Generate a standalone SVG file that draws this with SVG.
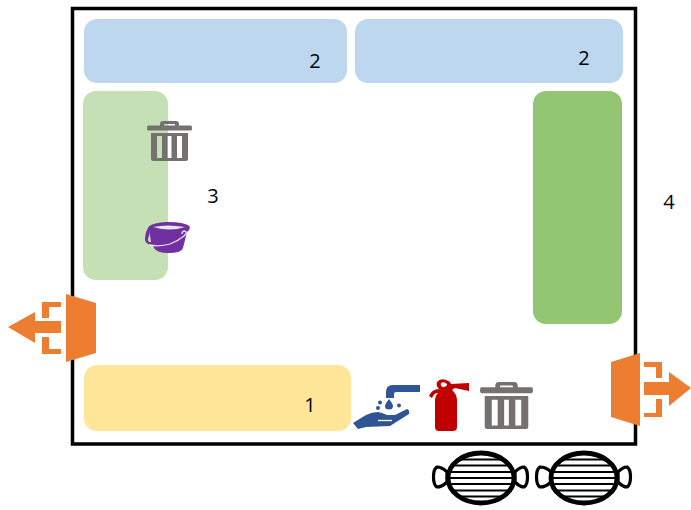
<svg xmlns="http://www.w3.org/2000/svg" width="691" height="510" viewBox="0 0 691 510">
<style>
.t{font-family:"Open Sans","Liberation Sans",Arial,sans-serif;font-size:20px;fill:#000}
.o{fill:#ed7d31}
.l{fill:none;stroke:#000}
.ear{fill:#fff;stroke:#000;stroke-width:3.200}
</style>
<defs>
<symbol id="trash" viewBox="0 0 45 40" preserveAspectRatio="none">
<path fill="#767171" fill-rule="evenodd" d="M1 4.500H13V3Q13 0 16 0H29Q32 0 32 3V4.500H44Q45 4.500 45 7Q45 9.500 44 9.500H1Q0 9.500 0 7Q0 4.500 1 4.500ZM17 4.500H28V3.500Q28 3 27 3H18Q17 3 17 3.500ZM4 12H41V38Q41 40 39 40H6Q4 40 4 38ZM10 15V37H15V15ZM20.500 15V37H24.500V15ZM30 15V37H35V15Z"/>
</symbol>
<clipPath id="maskClip"><ellipse cx="0" cy="0" rx="33" ry="25"/></clipPath>
<g id="maskShape">
<ellipse cx="0" cy="0" rx="33" ry="25" fill="#fff"/>
<path class="l" clip-path="url(#maskClip)" stroke-width="2.200" d="M-34-18.500H34M-34-12.500H34M-34-6H34M-34 0H34M-34 6H34M-34 12.500H34M-34 18.500H34"/>
<ellipse cx="0" cy="0" rx="33" ry="25" class="l" stroke-width="4.800"/>
</g>
</defs>
<g id="room"><rect x="72.500" y="8.500" width="563" height="435.500" fill="#fff" stroke="#000" stroke-width="3.500"/></g>
<g id="zone-top-left"><rect x="84" y="19" width="263" height="64" rx="13" fill="#bdd7ee"/><text class="t" x="315" y="68" text-anchor="middle">2</text></g>
<g id="zone-top-right"><rect x="355" y="19" width="268" height="64" rx="13" fill="#bdd7ee"/><text class="t" x="584" y="65" text-anchor="middle">2</text></g>
<g id="zone-left"><rect x="83" y="91" width="85" height="189" rx="13" fill="#c5e0b4"/></g>
<g id="zone-right"><rect x="533" y="91" width="89" height="233" rx="13" fill="#92c672"/></g>
<g id="zone-bottom"><rect x="84" y="365" width="267" height="66" rx="13" fill="#ffe699"/><text class="t" x="310" y="412" text-anchor="middle">1</text></g>
<g id="label-3"><text class="t" x="213" y="203" text-anchor="middle">3</text></g>
<g id="label-4"><text class="t" x="669" y="209" text-anchor="middle">4</text></g>
<g id="trash-small"><use href="#trash" x="147" y="121" width="45" height="40"/></g>
<g id="bucket">
<path fill="#7030a0" d="M148 228Q150 223 167 222Q186 222 190 227Q190 230 187 232L183 248Q182 253 168 253Q157 253 154 248L153 245Q146 245 145 240Q145 233 148 228Z"/>
<path fill="#c5e0b4" d="M149 236Q147 240 149 242L151 242L149.500 232Z"/>
<path fill="#e4e6e6" d="M153 227Q167 224 185 227Q170 232 153 227Z"/>
<path fill="none" stroke="#e8dff0" stroke-width="1.300" d="M149 245Q160 247 170 244Q178 241 184 236Q188 232 185 231Q182 231 182 234"/>
</g>
<g id="handwash">
<path fill="#2f5597" d="M393 385H420V392H396Q394 392 394 395V398H386V392Q386 385 393 385Z"/>
<path fill="#2f5597" d="M353 423L366 415Q372 412 378 412Q383 413 387 415L395 415L407 409Q410 410 409 414L390 426L366 427L358 429Z"/>
<path fill="none" stroke="#fff" stroke-width="1.300" d="M378 420.500H392"/>
<path fill="#2f5597" d="M389 399Q393 404 393 406Q393 409.500 389 409.500Q385 409.500 385 406Q385 404 389 399Z"/>
<circle cx="380" cy="402.500" r="2" fill="#2f5597"/><circle cx="399" cy="405.500" r="2" fill="#2f5597"/><circle cx="378" cy="408" r="2" fill="#2f5597"/>
</g>
<g id="extinguisher">
<path fill="#c00000" fill-rule="evenodd" d="M439 389Q435 385 437.500 381.500Q441 378 446 380Q450 381 451 384L469 383V391L455 388L452 390Q457 394 457 401V427Q457 431 453 431H439Q435 431 435 427V401Q435 396 438 393Q434 393 432 398L429 396Q432 389 439 389ZM441 383Q440 386 443 387Q447 387 447 384Q444 381 441 383Z"/>
</g>
<g id="trash-large"><use href="#trash" x="480" y="382" width="53" height="47"/></g>
<g id="exit-left" class="o">
<path d="M66 294L96 303V353L66 362Z"/>
<path d="M8 327L35 312V321H61V333H35V343Z"/>
<path d="M42 302H61V307H49V318H42ZM42 337H49V349H61V354H42Z"/>
</g>
<g id="exit-right" class="o">
<path d="M611 362L640 353V426L611 417Z"/>
<path d="M691 388L669 372V382H644V395H669V406Z"/>
<path d="M644 362H662V378H656V367H644ZM644 413H656V399H662V417H644Z"/>
</g>
<g id="mask-1">
<path class="ear" d="M447 472Q442 467 437 467Q433.500 469 433.500 477Q433.500 485 437 487Q442 487 447 482Z"/>
<path class="ear" d="M515 472Q520 467 524 467Q527.500 469 527.500 477Q527.500 485 524 487Q520 487 515 482Z"/>
<use href="#maskShape" x="481" y="478"/>
</g>
<g id="mask-2">
<path class="ear" d="M551 472Q546 467 540 467Q536.500 469 536.500 477Q536.500 485 540 487Q546 487 551 482Z"/>
<path class="ear" d="M618 472Q623 467 627 467Q630.500 469 630.500 477Q630.500 485 627 487Q623 487 618 482Z"/>
<use href="#maskShape" x="584" y="478"/>
</g>
<g id="connectors"/>
</svg>
